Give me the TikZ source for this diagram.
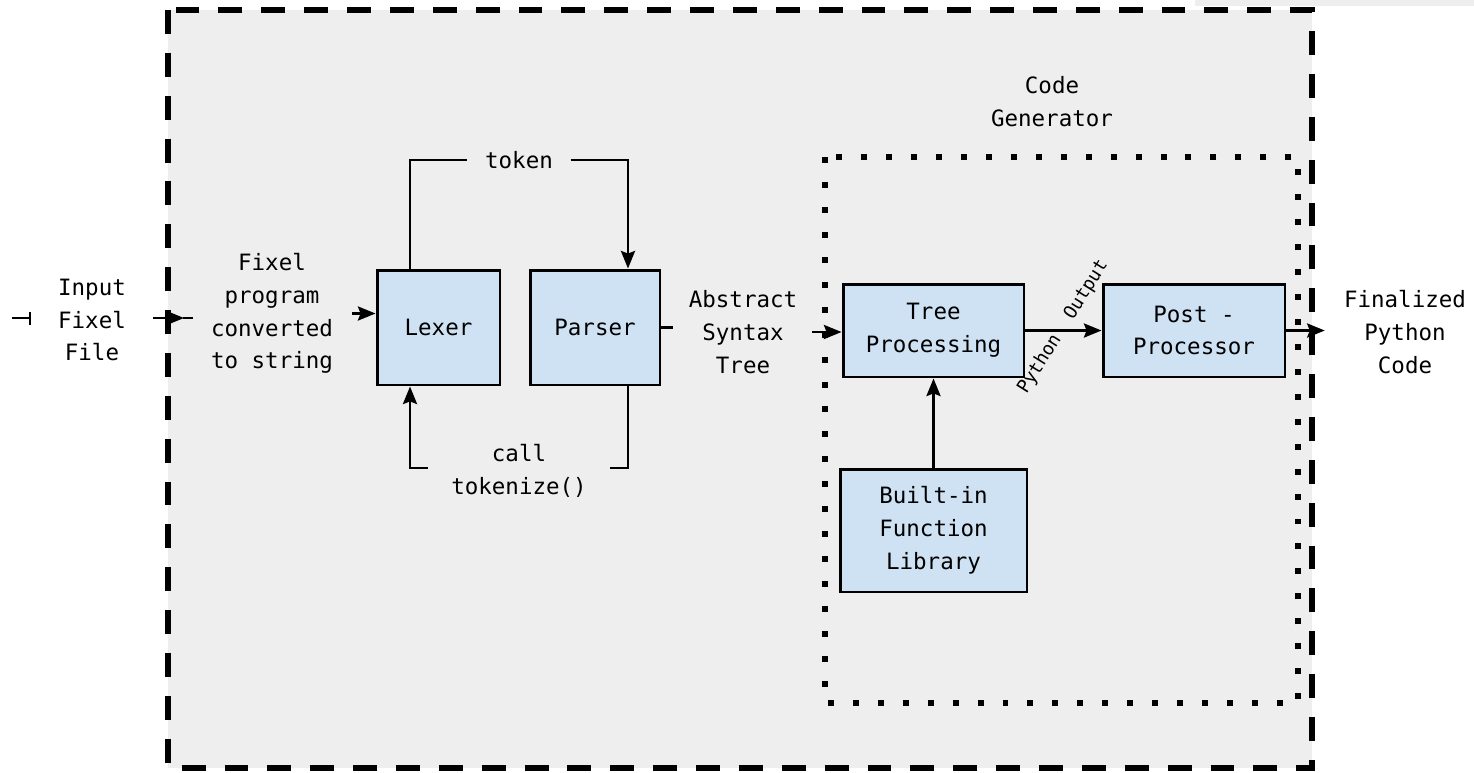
\documentclass[tikz,border=0pt]{standalone}
\usepackage{fontspec}
\setmainfont{DejaVu Sans Mono}
\usetikzlibrary{arrows.meta}
\definecolor{boxblue}{HTML}{CFE2F3}
\definecolor{bggray}{HTML}{EEEEEE}
\begin{document}
\begin{tikzpicture}[x=0.02cm, y=-0.02cm,
	every node/.append style={font=\fontsize{12.8}{18.7}\selectfont},
	block/.style={draw, line width=1.7pt, fill=boxblue, align=center, inner sep=0pt},
	lbl/.style={align=center, inner sep=0pt},
	link/.style={line width=1.5pt},
	arr/.style={link, -{Stealth[length=10pt, width=8pt, inset=1.5pt]}}]
	
	\useasboundingbox (0,0) rectangle (1474,772);
	
	% Draw background and frames
	\fill[bggray] (1195,0) rectangle (1474,6);
	\fill[bggray] (168,10) rectangle (1312,768);
	\draw[line width=3.4pt, dash pattern=on 13.6pt off 10.8pt] (168,10) rectangle (1312,768);
	\draw[line width=3.4pt, dash pattern=on 3.4pt off 10.8pt] (825,157) rectangle (1298,703);
	
	% Draw blocks
	\node[block, minimum width=2.46cm, minimum height=2.3cm] (lexer) at (438.5,327.5) {Lexer};
	\node[block, minimum width=2.6cm, minimum height=2.3cm] (parser) at (595,327.5) {Parser};
	\node[block, minimum width=3.62cm, minimum height=1.86cm] (treeproc) at (933.5,330.5) {Tree\\Processing};
	\node[block, minimum width=3.64cm, minimum height=1.86cm] (postproc) at (1194,330.5) {Post -\\Processor};
	\node[block, minimum width=3.74cm, minimum height=2.46cm] (builtin) at (933.5,530.5) {Built-in\\Function\\Library};
	
	% Labels
	\node[lbl] (input) at (92,320) {Input\\Fixel\\File};
	\node[lbl, inner xsep=0.38cm] (fixelstr) at (272,313.5) {Fixel\\program\\converted\\to string};
	\node[lbl, inner xsep=0.29cm] (ast) at (743,332) {Abstract\\Syntax\\Tree};
	\node[lbl] (final) at (1405,332) {Finalized\\Python\\Code};
	\node[lbl] (codegen) at (1052,102) {Code\\Generator};
	\node[lbl, inner xsep=0.35cm] (token) at (519,160) {token};
	\node[lbl, inner xsep=0.46cm] (call) at (519,471) {call\\tokenize()};
	\node[lbl, rotate=58, font=\fontsize{10.4}{12}\selectfont] (pyout) at (1063,327) {Python\hspace{1.2em}Output};
	
	% Draw input arrow
	\coordinate (instub) at (193,318);
	\draw[link] (12,318) -- (30,318);
	\draw[link] (30,312) -- (30,325);
	\draw[arr, shorten <=0.54cm, shorten >=0.18cm] (input.east |- instub) -- (instub);
	\draw[link] ([xshift=-0.2cm]instub) -- (instub);
	
	% Draw lexer and parser loop
	\draw[arr] (fixelstr.east) -- (fixelstr.east -| lexer.west);
	\draw[link] ([xshift=-0.57cm]lexer.north) |- (token.west);
	\draw[arr] (token.east) -| ([xshift=0.66cm]parser.north);
	\draw[link] ([xshift=0.66cm]parser.south) |- ([yshift=0.06cm]call.east);
	\draw[arr] ([yshift=0.06cm]call.west) -| ([xshift=-0.57cm]lexer.south);
	\draw[link] (parser.east) -- ++(12,0);
	
	% Draw code generator arrows
	\draw[arr] (ast.east) -- (ast.east -| treeproc.west);
	\draw[arr] (treeproc) -- (postproc);
	\draw[arr] (builtin) -- (treeproc);
	\draw[arr, shorten >=0.38cm] (postproc.east) -- (postproc.east -| final.west);
	
\end{tikzpicture}
\end{document}
